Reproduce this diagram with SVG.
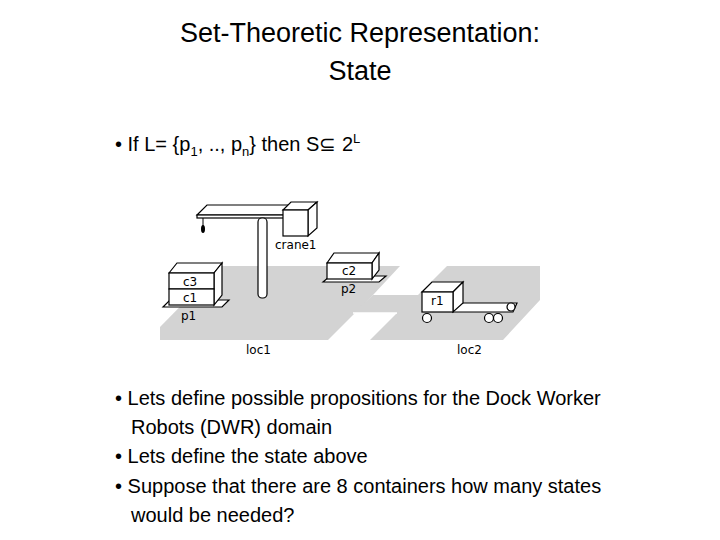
<svg xmlns="http://www.w3.org/2000/svg" width="720" height="540" viewBox="0 0 720 540">
<style>
.t{font-family:"Liberation Sans",Arial,sans-serif;fill:#000}
.h{font-size:27px}
.b{font-size:20px}
.s{font-family:"DejaVu Sans",sans-serif;font-size:12px;fill:#000}
.o{fill:#fff;stroke:#000;stroke-width:1.2}
.g{fill:#d3d3d3;stroke:none}
</style>
<rect width="720" height="540" fill="#fff"/>
<text class="t h" x="360" y="42" text-anchor="middle">Set-Theoretic Representation:</text>
<text class="t h" x="360" y="80" text-anchor="middle">State</text>
<text class="t b" x="115" y="151">• If L= {p<tspan font-size="13" dy="5">1</tspan><tspan dy="-5">, .., p</tspan><tspan font-size="13" dy="5">n</tspan><tspan dy="-5">} then S⊆ 2</tspan><tspan font-size="13" dy="-8">L</tspan></text>
<g id="floor">
<polygon class="g" points="160,340 328,340 373,295 400,266 220,266 160,327"/>
<polygon class="g" points="370,340 503,340 540,300 540,266 447,266 418,295 373,295 353,313 397,313"/>
<line x1="353" y1="313" x2="397" y2="313" stroke="#fff" stroke-width="1.5"/>
</g>
<g id="crane1">
<polygon class="o" points="197,215 207,205 292,205 285,215"/>
<rect class="o" x="197" y="215" width="88" height="3"/>
<rect class="o" x="258" y="218" width="9" height="80" rx="4"/>
<line x1="203" y1="218" x2="203" y2="226" stroke="#000"/>
<ellipse cx="203" cy="229" rx="2" ry="4" fill="#000"/>
<polygon class="o" points="283,210 291,202 317,202 308,210"/>
<polygon class="o" points="308,210 317,202 317,228 308,236"/>
<rect class="o" x="283" y="210" width="25" height="26"/>
<text class="s" x="275" y="249">crane1</text>
</g>
<g id="p1">
<polygon class="o" points="163,307 170,300 229,300 222,307"/>
<text class="s" x="181" y="320">p1</text>
</g>
<g id="c1c3">
<polygon class="o" points="169,273 177,263 222,263 214,273"/>
<polygon class="o" points="214,273 222,263 222,295 214,305"/>
<rect class="o" x="169" y="273" width="45" height="16"/>
<rect class="o" x="169" y="289" width="45" height="16"/>
<text class="s" x="183" y="286">c3</text>
<text class="s" x="183" y="302">c1</text>
</g>
<g id="p2">
<polygon class="o" points="323,282 330,276 386,276 379,282"/>
<text class="s" x="341" y="293">p2</text>
</g>
<g id="c2">
<polygon class="o" points="327,263 334,253 379,253 372,263"/>
<polygon class="o" points="372,263 379,253 379,270 372,279"/>
<rect class="o" x="327" y="263" width="45" height="16"/>
<text class="s" x="342" y="275">c2</text>
</g>
<g id="r1">
<polygon class="o" points="453,303 517,303 513,312 453,312"/>
<polygon class="o" points="422,292 432,282 463,282 453,292"/>
<polygon class="o" points="453,292 463,282 463,303 453,312"/>
<rect class="o" x="422" y="292" width="31" height="20"/>
<circle class="o" cx="427" cy="318" r="4.5"/>
<circle class="o" cx="489" cy="318" r="4.5"/>
<circle class="o" cx="498" cy="318" r="4.5"/>
<circle class="o" cx="511" cy="307" r="4"/>
<text class="s" x="431" y="305">r1</text>
</g>
<text class="s" x="246" y="354">loc1</text>
<text class="s" x="457" y="354">loc2</text>
<g id="connectors"/>
<text class="t b" x="115" y="405">• Lets define possible propositions for the Dock Worker</text>
<text class="t b" x="131" y="434">Robots (DWR) domain</text>
<text class="t b" x="115" y="463">• Lets define the state above</text>
<text class="t b" x="115" y="493">• Suppose that there are 8 containers how many states</text>
<text class="t b" x="131" y="522">would be needed?</text>
</svg>
